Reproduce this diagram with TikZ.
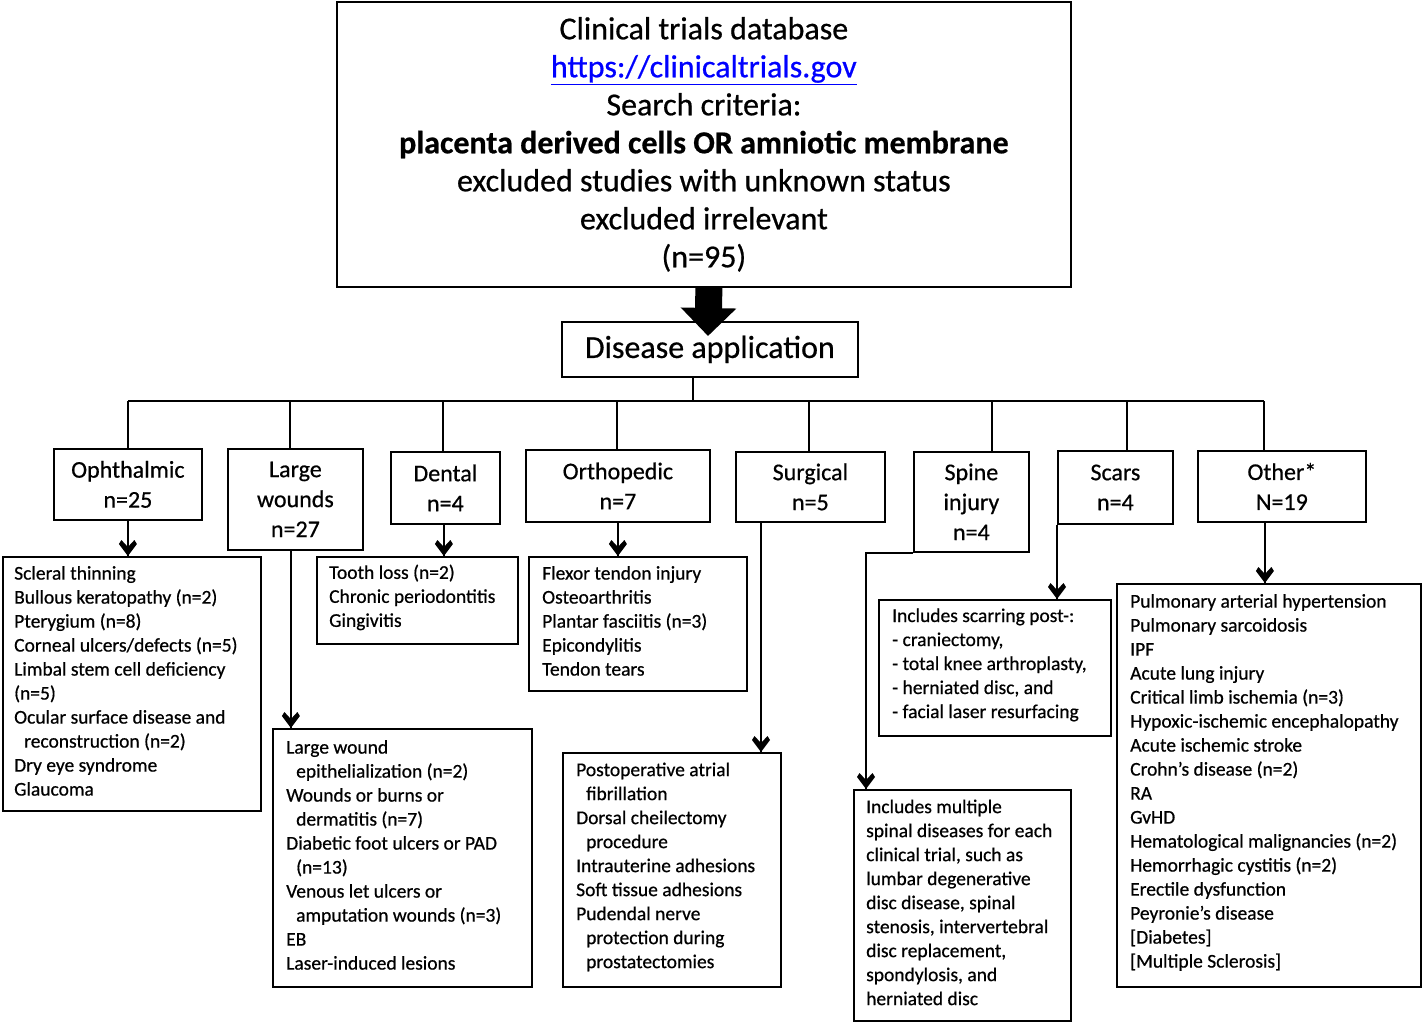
\documentclass[tikz,border=0pt]{standalone}
\usepackage{fontspec}
\setmainfont{Carlito}[FakeBold=0.6]
\usetikzlibrary{arrows.meta}
\tikzset{
  box/.style={draw, line width=1.8pt, inner sep=0pt, anchor=north west},
  cat/.style={box, align=center, font=\fontsize{24}{30}\selectfont},
  lst/.style={align=left, anchor=west, font=\fontsize{19.5}{24}\selectfont, inner sep=0pt, yshift=3pt},
  conn/.style={line width=1.8pt},
  chev/.pic={\fill[black] (0,0) -- (-9,-12) -- (-6.5,-16) -- (0,-9) -- (6.5,-16) -- (9,-12) -- cycle;},
  bigarr/.style={line width=27pt, -{Triangle[length=28pt,width=54pt]}}
}
\begin{document}
\begin{tikzpicture}[x=1pt,y=-1pt]
\useasboundingbox (0,0) rectangle (1422,1021);
% top box
\node[box, minimum width=734pt, minimum height=285pt, align=center,
      font=\fontsize{32}{38}\selectfont] (top) at (336,1)
  {Clinical trials database\\
   \textcolor[RGB]{0,0,255}{\underline{https://clinicaltrials.gov}}\\
   Search criteria:\\
   \textbf{placenta derived cells OR amniotic membrane}\\
   excluded studies with unknown status\\
   excluded irrelevant\\
   (n=95)};
\node[box, minimum width=296pt, minimum height=55pt,
      font=\fontsize{32}{38}\selectfont] (dis) at (561,321) {Disease application};
\coordinate (tip) at (708,336);
\draw[bigarr] ([xshift=5pt]top.south) -- (tip);
% categories
\node[cat, minimum width=148pt, minimum height=71pt] (oph) at (53,448) {Ophthalmic\\n=25};
\node[cat, minimum width=135pt, minimum height=101pt] (lw) at (227,448) {Large\\wounds\\n=27};
\node[cat, minimum width=109pt, minimum height=72pt] (den) at (390,451) {Dental\\n=4};
\node[cat, minimum width=184pt, minimum height=72pt] (ort) at (525,449) {Orthopedic\\n=7};
\node[cat, minimum width=149pt, minimum height=70pt] (sur) at (735,451) {Surgical\\n=5};
\node[cat, minimum width=115pt, minimum height=100pt] (spi) at (913,451) {Spine\\injury\\n=4};
\node[cat, minimum width=115pt, minimum height=73pt] (sca) at (1057,450) {Scars\\n=4};
\node[cat, minimum width=168pt, minimum height=71pt] (oth) at (1197,450) {Other*\\N=19};
% bus
\coordinate (hub) at (693,401);
\coordinate (b1) at (128,401);
\coordinate (b2) at (290,401);
\coordinate (b3) at (443,401);
\coordinate (b4) at (617,401);
\coordinate (b5) at (809,401);
\coordinate (b6) at (992,401);
\coordinate (b7) at (1127,401);
\coordinate (b8) at (1264,401);
\draw[conn] (dis.south -| hub) -- (hub);
\draw[conn] (b1) -- (b8);
\draw[conn] (b1) -- (b1 |- oph.north);
\draw[conn] (b2) -- (b2 |- lw.north);
\draw[conn] (b3) -- (b3 |- den.north);
\draw[conn] (b4) -- (b4 |- ort.north);
\draw[conn] (b5) -- (b5 |- sur.north);
\draw[conn] (b6) -- (b6 |- spi.north);
\draw[conn] (b7) -- (b7 |- sca.north);
\draw[conn] (b8) -- (b8 |- oth.north);
% list boxes
\node[box, minimum width=258pt, minimum height=254pt] (ophL) at (2,556) {};
\node[box, minimum width=259pt, minimum height=258pt] (lwL) at (272,728) {};
\node[box, minimum width=201pt, minimum height=87pt] (denL) at (316,556) {};
\node[box, minimum width=218pt, minimum height=134pt] (ortL) at (528,556) {};
\node[box, minimum width=218pt, minimum height=234pt] (surL) at (562,752) {};
\node[box, minimum width=217pt, minimum height=231pt] (spiL) at (853,789) {};
\node[box, minimum width=232pt, minimum height=136pt] (scaL) at (878,599) {};
\node[box, minimum width=304pt, minimum height=403pt] (othL) at (1116,583) {};
% list texts
\node[lst] (ophT) at ([xshift=12pt]ophL.west) {Scleral thinning\\Bullous keratopathy (n=2)\\Pterygium (n=8)\\Corneal ulcers/defects (n=5)\\Limbal stem cell deficiency\\(n=5)\\Ocular surface disease and\\\hspace*{10pt}reconstruction (n=2)\\Dry eye syndrome\\Glaucoma};
\node[lst] (lwT) at ([xshift=14pt]lwL.west) {Large wound\\\hspace*{10pt}epithelialization (n=2)\\Wounds or burns or\\\hspace*{10pt}dermatitis (n=7)\\Diabetic foot ulcers or PAD\\\hspace*{10pt}(n=13)\\Venous let ulcers or\\\hspace*{10pt}amputation wounds (n=3)\\EB\\Laser-induced lesions};
\node[lst] (denT) at ([xshift=13pt]denL.west) {Tooth loss (n=2)\\Chronic periodontitis\\Gingivitis};
\node[lst] (ortT) at ([xshift=14pt]ortL.west) {Flexor tendon injury\\Osteoarthritis\\Plantar fasciitis (n=3)\\Epicondylitis\\Tendon tears};
\node[lst] (surT) at ([xshift=14pt]surL.west) {Postoperative atrial\\\hspace*{10pt}fibrillation\\Dorsal cheilectomy\\\hspace*{10pt}procedure\\Intrauterine adhesions\\Soft tissue adhesions\\Pudendal nerve\\\hspace*{10pt}protection during\\\hspace*{10pt}prostatectomies};
\node[lst] (spiT) at ([xshift=13pt]spiL.west) {Includes multiple\\spinal diseases for each\\clinical trial, such as\\lumbar degenerative\\disc disease, spinal\\stenosis, intervertebral\\disc replacement,\\spondylosis, and\\herniated disc};
\node[lst] (scaT) at ([xshift=14pt]scaL.west) {Includes scarring post-:\\- craniectomy,\\- total knee arthroplasty,\\- herniated disc, and\\- facial laser resurfacing};
\node[lst] (othT) at ([xshift=14pt]othL.west) {Pulmonary arterial hypertension\\Pulmonary sarcoidosis\\IPF\\Acute lung injury\\Critical limb ischemia (n=3)\\Hypoxic-ischemic encephalopathy\\Acute ischemic stroke\\Crohn’s disease (n=2)\\RA\\GvHD\\Hematological malignancies (n=2)\\Hemorrhagic cystitis (n=2)\\Erectile dysfunction\\Peyronie’s disease\\{[Diabetes]}\\{[Multiple Sclerosis]}};
% arrows to lists
\draw[conn] (oph.south) -- (oph.south |- ophL.north) pic {chev};
\draw[conn] ([xshift=-4.5pt]lw.south) -- ([xshift=-4.5pt]lw.south |- lwL.north) pic {chev};
\draw[conn] ([xshift=-1.5pt]den.south) -- ([xshift=-1.5pt]den.south |- denL.north) pic {chev};
\draw[conn] (ort.south) -- (ort.south |- ortL.north) pic {chev};
\draw[conn] ([xshift=26pt]sur.south west) -- ([xshift=26pt]sur.south west |- surL.north) pic {chev};
\draw[conn] (spi.south west) -| ([xshift=13pt]spiL.north west) pic {chev};
\draw[conn] (sca.south west) -- (sca.south west |- scaL.north) pic {chev};
\draw[conn] ([xshift=-17pt]oth.south) -- ([xshift=-17pt]oth.south |- othL.north) pic {chev};
\end{tikzpicture}
\end{document}
